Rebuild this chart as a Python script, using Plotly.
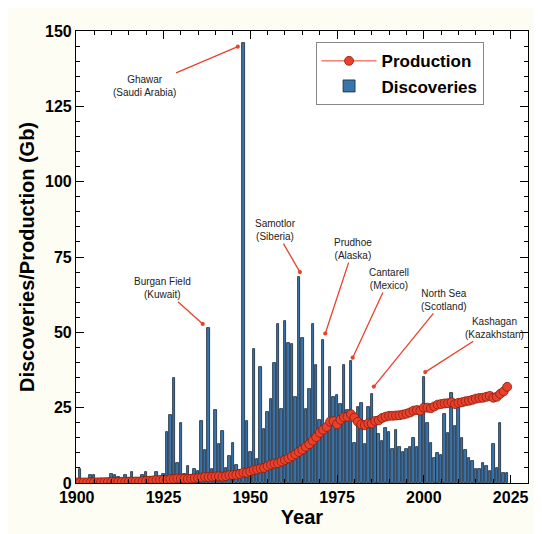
import plotly.graph_objects as go

# data (Gb)
years = list(range(1900, 2025))

discoveries = [
    0.3, 4.8, 0.5, 0.8, 2.5, 2.5, 0.6, 0.8, 1.0, 1.2,        # 1900s
    3.0, 2.8, 2.0, 1.0, 2.5, 1.5, 3.5, 1.0, 1.5, 2.5,        # 1910s
    3.5, 2.0, 1.8, 3.5, 1.5, 3.0, 17.0, 22.6, 34.7, 6.6,     # 1920s
    20.0, 3.1, 5.8, 2.5, 4.5, 4.1, 20.6, 10.9, 51.3, 4.5,    # 1930s
    24.2, 13.1, 17.3, 5.0, 8.8, 13.4, 6.1, 4.2, 146.0, 20.6,  # 1940s
    10.4, 44.6, 7.9, 38.6, 17.8, 23.7, 28.0, 39.7, 52.9, 24.7,  # 1950s
    53.9, 46.5, 46.0, 28.5, 68.3, 48.2, 24.7, 31.3, 52.8, 39.3,  # 1960s
    20.8, 47.4, 17.0, 38.5, 28.5, 29.1, 26.1, 39.3, 24.1, 40.5,  # 1970s
    13.4, 25.2, 26.4, 13.1, 25.2, 29.7, 18.9, 16.2, 14.0, 18.1,  # 1980s
    17.0, 11.2, 17.5, 12.0, 10.4, 11.2, 11.8, 14.8, 11.8, 22.8,  # 1990s
    35.3, 20.0, 13.4, 8.2, 10.1, 9.2, 23.0, 16.7, 30.0, 18.9,    # 2000s
    25.3, 14.8, 11.0, 8.4, 7.3, 4.7, 4.7, 6.5, 5.5, 4.0,         # 2010s
    12.9, 5.0, 20.0, 3.3, 3.3,                                   # 2020s
]

production = [
    0.15, 0.17, 0.18, 0.19, 0.22, 0.22, 0.21, 0.26, 0.29, 0.30,
    0.33, 0.34, 0.35, 0.38, 0.41, 0.43, 0.46, 0.50, 0.50, 0.56,
    0.69, 0.77, 0.86, 1.02, 1.01, 1.07, 1.10, 1.26, 1.33, 1.49,
    1.41, 1.37, 1.31, 1.44, 1.52, 1.65, 1.79, 2.04, 1.99, 2.09,
    2.15, 2.22, 2.09, 2.26, 2.59, 2.60, 2.75, 3.02, 3.43, 3.40,
    3.80, 4.28, 4.50, 4.80, 5.02, 5.62, 6.12, 6.44, 6.61, 7.13,
    7.67, 8.19, 8.88, 9.53, 10.31, 11.06, 12.02, 12.90, 14.09, 15.21,
    16.69, 17.68, 18.60, 20.37, 20.54, 19.50, 21.00, 21.80, 22.00, 22.80,
    21.70, 20.30, 19.40, 19.20, 19.80, 19.70, 20.60, 20.80, 21.60, 22.00,
    22.30, 22.30, 22.40, 22.50, 22.70, 23.00, 23.40, 24.00, 24.20, 24.00,
    25.00, 25.00, 24.80, 25.40, 26.00, 26.20, 26.40, 26.50, 26.80, 26.20,
    26.60, 26.80, 27.10, 27.30, 27.60, 28.00, 28.20, 28.30, 28.60, 28.90,
    28.30, 28.60, 29.60, 30.40, 31.90,
]

# field labels: text position and the bar they point at
field_names = ['Ghawar<br>(Saudi Arabia)', 'Burgan Field<br>(Kuwait)', 'Samotlor<br>(Siberia)',
               'Prudhoe<br>(Alaska)', 'Cantarell<br>(Mexico)', 'North Sea<br>(Scotland)',
               'Kashagan<br>(Kazakhstan)']
label_x = [1919.5, 1924.8, 1957.3, 1979.6, 1990.0, 2005.9, 2020.3]
label_y = [131.6, 64.6, 83.9, 77.6, 67.7, 60.8, 51.5]
tip_x = [1946.4, 1936.3, 1964.3, 1971.6, 1979.5, 1985.6, 2000.4]
tip_y = [144.8, 52.8, 70.0, 49.6, 41.6, 32.0, 36.8]

FONT = 'Arial, Liberation Sans, sans-serif'
RED = '#e8422c'

fig = go.Figure()
fig.add_trace(go.Bar(
    x=years, y=discoveries, name='Discoveries', width=0.72,
    marker=dict(color='#3a74ad', line=dict(color='#17273a', width=0.8)),
))
fig.add_trace(go.Scatter(
    x=years, y=production, name='Production', mode='lines+markers',
    line=dict(color=RED, width=1),
    marker=dict(size=9, color=RED, line=dict(color='#8a1c0c', width=0.8)),
))

for name, tx, ty, px, py in zip(field_names, label_x, label_y, tip_x, tip_y):
    fig.add_annotation(
        x=px, y=py, ax=tx, ay=ty, xref='x', yref='y', axref='x', ayref='y',
        text=name, showarrow=True, arrowhead=6, arrowsize=0.8, arrowwidth=1.3,
        arrowcolor=RED, font=dict(family=FONT, size=10, color='#222222'),
        align='center',
    )

fig.update_layout(
    width=542, height=534,
    margin=dict(l=68, r=22, t=23, b=59),
    paper_bgcolor='#fdfdf3', plot_bgcolor='white',
    bargap=0, showlegend=True,
    legend=dict(
        x=0.53, y=0.975, xanchor='left', yanchor='top', traceorder='reversed',
        bgcolor='white', bordercolor='#888888', borderwidth=1,
        font=dict(family=FONT, size=17, color='black', weight='bold'),
        itemwidth=55, tracegroupgap=0,
    ),
    font=dict(family=FONT, color='black'),
)

fig.update_xaxes(
    range=[1899.8, 2030], tick0=1900, dtick=25,
    ticks='inside', ticklen=8, tickcolor='black',
    minor=dict(dtick=5, ticks='inside', ticklen=4, tickcolor='black'),
    showline=True, linecolor='black', linewidth=1.2, mirror='ticks',
    showgrid=False, zeroline=False,
    tickfont=dict(family=FONT, size=16, weight='bold'),
    title=dict(text='Year', font=dict(family=FONT, size=20, weight='bold'), standoff=3),
)
fig.update_yaxes(
    range=[0, 150], tick0=0, dtick=25,
    ticks='inside', ticklen=8, tickcolor='black',
    minor=dict(dtick=5, ticks='inside', ticklen=4, tickcolor='black'),
    showline=True, linecolor='black', linewidth=1.2, mirror='ticks',
    showgrid=False, zeroline=False,
    tickfont=dict(family=FONT, size=16, weight='bold'),
    title=dict(text='Discoveries/Production (Gb)', font=dict(family=FONT, size=20, weight='bold'), standoff=4),
)

fig.write_html("out.html")
